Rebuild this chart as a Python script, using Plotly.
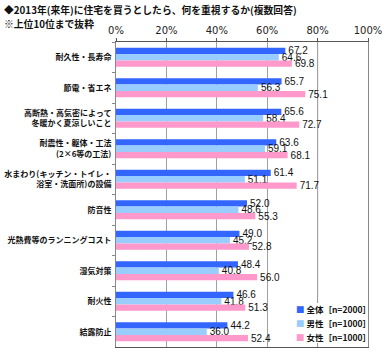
import plotly.graph_objects as go

categories = [
    "耐久性・長寿命",
    "節電・省エネ",
    "高断熱・高気密によって<br>冬暖かく夏涼しいこと",
    "耐震性・躯体・工法<br>(2×6等の工法)",
    "水まわり(キッチン・トイレ・<br>浴室・洗面所)の設備",
    "防音性",
    "光熱費等のランニングコスト",
    "湿気対策",
    "耐火性",
    "結露防止",
]
all_vals = [67.2, 65.7, 65.6, 63.6, 61.4, 52.0, 49.0, 48.4, 46.6, 44.2]
male_vals = [64.6, 56.3, 58.4, 59.1, 51.1, 48.6, 45.2, 40.8, 41.8, 36.0]
female_vals = [69.8, 75.1, 72.7, 68.1, 71.7, 55.3, 52.8, 56.0, 51.3, 52.4]
series_names = ["全体［n=2000］", "男性［n=1000］", "女性［n=1000］"]
colors = ["#3366FF", "#99CCFF", "#FF99CC"]
tick_vals = [0, 20, 40, 60, 80, 100]
tick_text = ["0%", "20%", "40%", "60%", "80%", "100%"]
title_lines = ["◆2013年(来年)に住宅を買うとしたら、何を重視するか(複数回答)", "※上位10位まで抜粋"]

JP = "Noto Sans CJK JP"
W, H = 384, 354
ML, MR, MT, MB = 116, 16, 42, 7
PW, PH = W - ML - MR, H - MT - MB


def px_x(x):
    return (x - ML) / PW


def px_y(y):
    return (H - MB - y) / PH


fig = go.Figure()
for name, vals, c in zip(series_names, [all_vals, male_vals, female_vals], colors):
    fig.add_trace(go.Bar(
        y=[f"<b>{c_}</b>" for c_ in categories], x=vals, name=name, orientation="h",
        marker=dict(color=c, line=dict(width=0)),
        text=[f"{v:.1f}" for v in vals], textposition="outside",
        textfont=dict(family="Liberation Sans, Arial", size=10, color="#111"),
        constraintext="none", cliponaxis=False, showlegend=False,
    ))

fig.add_shape(type="line", xref="x", yref="paper", x0=80, x1=80, y0=0, y1=1,
              line=dict(color="#A06868", width=1), layer="below")

# title
for i, line in enumerate(title_lines):
    fig.add_annotation(
        xref="paper", yref="paper", x=px_x(2), y=px_y(10 + 14 * i),
        xanchor="left", yanchor="middle", showarrow=False,
        text=f"<b>{line}</b>", font=dict(family=JP, size=9.8, color="#111"),
    )

# legend (drawn as text, white box behind)
fig.add_shape(type="rect", xref="paper", yref="paper",
              x0=px_x(290), x1=px_x(367), y0=px_y(343), y1=px_y(303),
              fillcolor="white", line=dict(width=0), layer="above")
for i, (name, c) in enumerate(zip(series_names, colors)):
    fig.add_annotation(
        xref="paper", yref="paper", x=px_x(294), y=px_y(309 + 14 * i),
        xanchor="left", yanchor="middle", showarrow=False,
        text=f"<span style='color:{c}'>■</span> <b>{name}</b>",
        font=dict(family=JP, size=8.5, color="#111"),
    )

fig.update_layout(
    width=W, height=H,
    margin=dict(l=ML, r=MR, t=MT, b=MB),
    paper_bgcolor="white", plot_bgcolor="white",
    barmode="group", bargap=0.37, bargroupgap=0,
    font=dict(family=JP, size=10, color="#111"),
    showlegend=False,
    xaxis=dict(
        side="top", range=[0, 100], tickvals=tick_vals, ticktext=tick_text,
        showgrid=True, gridcolor="#A0A0A0", gridwidth=1,
        showline=True, linecolor="#555", linewidth=1, mirror=True,
        ticks="outside", ticklen=3, tickcolor="#555",
        tickfont=dict(family="DejaVu Sans", size=10, color="#222"),
        zeroline=False, fixedrange=True, automargin=False,
    ),
    yaxis=dict(
        autorange="reversed", showgrid=False,
        showline=True, linecolor="#888", linewidth=1, mirror=True,
        ticks="outside", ticklen=3, tickcolor="#888", tickson="boundaries",
        tickfont=dict(family=JP, size=8.0, color="#111"),
        ticklabelstandoff=2, automargin=False,
    ),
)
fig.write_html("out.html")
